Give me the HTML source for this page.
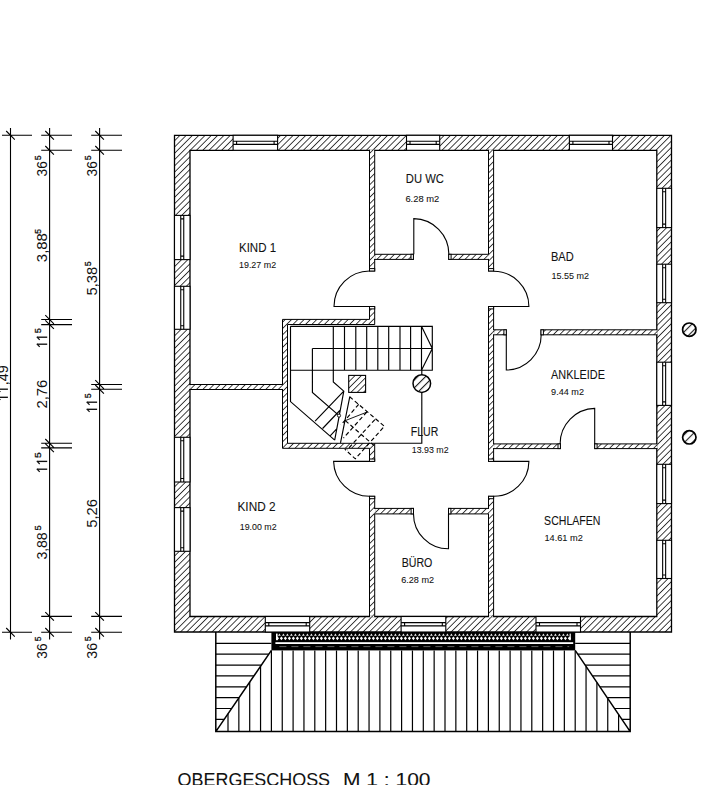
<!DOCTYPE html>
<html><head><meta charset="utf-8"><title>Obergeschoss</title>
<style>
html,body{margin:0;padding:0;background:#fff;}
body{width:713px;height:785px;overflow:hidden;}
svg{display:block;}
text{font-family:"Liberation Sans",sans-serif;fill:#111;}
.lb{stroke:#111;stroke-width:0.08px;}
.sp{stroke:#111;stroke-width:0.3px;}
</style></head><body>
<svg width="713" height="785" viewBox="0 0 713 785">
<defs>
<pattern id="h" patternUnits="userSpaceOnUse" width="4.45" height="20" patternTransform="rotate(45)">
<rect x="0" y="0" width="0.85" height="20" fill="#222"/>
</pattern>
<pattern id="h3" patternUnits="userSpaceOnUse" width="5.6" height="20" patternTransform="translate(1.5 0) rotate(45)">
<rect x="0" y="0" width="1.1" height="20" fill="#222"/>
</pattern>
<pattern id="h2" patternUnits="userSpaceOnUse" width="4.2" height="20" patternTransform="rotate(45)">
<rect x="0" y="0" width="1" height="20" fill="#222"/>
</pattern>
</defs>
<rect width="713" height="785" fill="#fff"/>
<path d="M174.5 135.3H671.5V632H174.5Z M190 150.3H656.8V616.5H190Z" fill="url(#h)" fill-rule="evenodd" stroke="#000" stroke-width="1.3"/>
<rect x="233.1" y="135.3" width="44.5" height="15" fill="#fff" stroke="#000" stroke-width="1.1"/>
<path d="M233.1 141.2H277.6M233.1 144.4H277.6M236.6 141.2V144.4M274.1 141.2V144.4" stroke="#000" stroke-width="1.1" fill="none"/>
<rect x="406.5" y="135.3" width="33.2" height="15" fill="#fff" stroke="#000" stroke-width="1.1"/>
<path d="M406.5 141.2H439.7M406.5 144.4H439.7M410 141.2V144.4M436.2 141.2V144.4" stroke="#000" stroke-width="1.1" fill="none"/>
<rect x="569.4" y="135.3" width="43.1" height="15" fill="#fff" stroke="#000" stroke-width="1.1"/>
<path d="M569.4 141.2H612.5M569.4 144.4H612.5M572.9 141.2V144.4M609 141.2V144.4" stroke="#000" stroke-width="1.1" fill="none"/>
<rect x="265.3" y="616.5" width="44.4" height="15.5" fill="#fff" stroke="#000" stroke-width="1.1"/>
<path d="M265.3 622.65H309.7M265.3 625.85H309.7M268.8 622.65V625.85M306.2 622.65V625.85" stroke="#000" stroke-width="1.1" fill="none"/>
<rect x="401.1" y="616.5" width="44.7" height="15.5" fill="#fff" stroke="#000" stroke-width="1.1"/>
<path d="M401.1 622.65H445.8M401.1 625.85H445.8M404.6 622.65V625.85M442.3 622.65V625.85" stroke="#000" stroke-width="1.1" fill="none"/>
<rect x="536" y="616.5" width="44.5" height="15.5" fill="#fff" stroke="#000" stroke-width="1.1"/>
<path d="M536 622.65H580.5M536 625.85H580.5M539.5 622.65V625.85M577 622.65V625.85" stroke="#000" stroke-width="1.1" fill="none"/>
<rect x="174.5" y="215.4" width="15.5" height="44.2" fill="#fff" stroke="#000" stroke-width="1.1"/>
<path d="M180.75 215.4V259.6M183.75 215.4V259.6M180.75 218.9H183.75M180.75 256.1H183.75" stroke="#000" stroke-width="1.1" fill="none"/>
<rect x="174.5" y="286.3" width="15.5" height="43" fill="#fff" stroke="#000" stroke-width="1.1"/>
<path d="M180.75 286.3V329.3M183.75 286.3V329.3M180.75 289.8H183.75M180.75 325.8H183.75" stroke="#000" stroke-width="1.1" fill="none"/>
<rect x="174.5" y="437.3" width="15.5" height="44.7" fill="#fff" stroke="#000" stroke-width="1.1"/>
<path d="M180.75 437.3V482M183.75 437.3V482M180.75 440.8H183.75M180.75 478.5H183.75" stroke="#000" stroke-width="1.1" fill="none"/>
<rect x="174.5" y="507.6" width="15.5" height="43.7" fill="#fff" stroke="#000" stroke-width="1.1"/>
<path d="M180.75 507.6V551.3M183.75 507.6V551.3M180.75 511.1H183.75M180.75 547.8H183.75" stroke="#000" stroke-width="1.1" fill="none"/>
<rect x="656.8" y="188.3" width="14.7" height="39.3" fill="#fff" stroke="#000" stroke-width="1.1"/>
<path d="M662.65 188.3V227.6M665.65 188.3V227.6M662.65 191.8H665.65M662.65 224.1H665.65" stroke="#000" stroke-width="1.1" fill="none"/>
<rect x="656.8" y="264.2" width="14.7" height="38.5" fill="#fff" stroke="#000" stroke-width="1.1"/>
<path d="M662.65 264.2V302.7M665.65 264.2V302.7M662.65 267.7H665.65M662.65 299.2H665.65" stroke="#000" stroke-width="1.1" fill="none"/>
<rect x="656.8" y="362.2" width="14.7" height="43.2" fill="#fff" stroke="#000" stroke-width="1.1"/>
<path d="M662.65 362.2V405.4M665.65 362.2V405.4M662.65 365.7H665.65M662.65 401.9H665.65" stroke="#000" stroke-width="1.1" fill="none"/>
<rect x="656.8" y="464.3" width="14.7" height="39.3" fill="#fff" stroke="#000" stroke-width="1.1"/>
<path d="M662.65 464.3V503.6M665.65 464.3V503.6M662.65 467.8H665.65M662.65 500.1H665.65" stroke="#000" stroke-width="1.1" fill="none"/>
<rect x="656.8" y="540.3" width="14.7" height="38.2" fill="#fff" stroke="#000" stroke-width="1.1"/>
<path d="M662.65 540.3V578.5M665.65 540.3V578.5M662.65 543.8H665.65M662.65 575H665.65" stroke="#000" stroke-width="1.1" fill="none"/>
<rect x="369.5" y="150.3" width="5.2" height="120.7" fill="url(#h)" stroke="#000" stroke-width="1"/>
<rect x="488.5" y="150.3" width="5.1" height="120.7" fill="url(#h)" stroke="#000" stroke-width="1"/>
<rect x="374.7" y="254.3" width="38.7" height="5.1" fill="url(#h)" stroke="#000" stroke-width="1"/>
<rect x="448.7" y="254.3" width="39.8" height="5.1" fill="url(#h)" stroke="#000" stroke-width="1"/>
<path d="M369.5 306.5 L374.7 306.5 L374.7 324.5 L287.5 324.5 L287.5 443.3 L374.7 443.3 L374.7 461.4 L369.5 461.4 L369.5 448.3 L282.5 448.3 L282.5 319.4 L369.5 319.4Z" fill="url(#h)" stroke="#000" stroke-width="1"/>
<rect x="190" y="384.5" width="92.5" height="5" fill="url(#h)" stroke="#000" stroke-width="1"/>
<rect x="488.5" y="306.5" width="5.1" height="154.9" fill="url(#h)" stroke="#000" stroke-width="1"/>
<rect x="493.6" y="329.8" width="12.7" height="5" fill="url(#h)" stroke="#000" stroke-width="1"/>
<rect x="541" y="329.8" width="115.8" height="5" fill="url(#h)" stroke="#000" stroke-width="1"/>
<rect x="493.6" y="443.9" width="66.8" height="4.7" fill="url(#h)" stroke="#000" stroke-width="1"/>
<rect x="594.7" y="443.9" width="62.1" height="4.7" fill="url(#h)" stroke="#000" stroke-width="1"/>
<rect x="369.5" y="496.3" width="5.2" height="120.2" fill="url(#h)" stroke="#000" stroke-width="1"/>
<rect x="488.5" y="496.3" width="5.1" height="120.2" fill="url(#h)" stroke="#000" stroke-width="1"/>
<rect x="374.7" y="508.4" width="38.8" height="5.5" fill="url(#h)" stroke="#000" stroke-width="1"/>
<rect x="448.5" y="508.4" width="40" height="5.5" fill="url(#h)" stroke="#000" stroke-width="1"/>
<rect x="370.05" y="149.4" width="4.1" height="1.8" fill="#fff"/>
<rect x="370.05" y="149.4" width="4.1" height="1.8" fill="url(#h)"/>
<rect x="489.05" y="149.4" width="4" height="1.8" fill="#fff"/>
<rect x="489.05" y="149.4" width="4" height="1.8" fill="url(#h)"/>
<rect x="370.05" y="615.6" width="4.1" height="1.8" fill="#fff"/>
<rect x="370.05" y="615.6" width="4.1" height="1.8" fill="url(#h)"/>
<rect x="489.05" y="615.6" width="4" height="1.8" fill="#fff"/>
<rect x="489.05" y="615.6" width="4" height="1.8" fill="url(#h)"/>
<rect x="373.8" y="254.85" width="1.8" height="4" fill="#fff"/>
<rect x="373.8" y="254.85" width="1.8" height="4" fill="url(#h)"/>
<rect x="487.6" y="254.85" width="1.8" height="4" fill="#fff"/>
<rect x="487.6" y="254.85" width="1.8" height="4" fill="url(#h)"/>
<rect x="189.1" y="385.05" width="1.8" height="3.9" fill="#fff"/>
<rect x="189.1" y="385.05" width="1.8" height="3.9" fill="url(#h)"/>
<rect x="281.6" y="385.05" width="1.8" height="3.9" fill="#fff"/>
<rect x="281.6" y="385.05" width="1.8" height="3.9" fill="url(#h)"/>
<rect x="492.7" y="330.35" width="1.8" height="3.9" fill="#fff"/>
<rect x="492.7" y="330.35" width="1.8" height="3.9" fill="url(#h)"/>
<rect x="655.9" y="330.35" width="1.8" height="3.9" fill="#fff"/>
<rect x="655.9" y="330.35" width="1.8" height="3.9" fill="url(#h)"/>
<rect x="492.7" y="444.45" width="1.8" height="3.6" fill="#fff"/>
<rect x="492.7" y="444.45" width="1.8" height="3.6" fill="url(#h)"/>
<rect x="655.9" y="444.45" width="1.8" height="3.6" fill="#fff"/>
<rect x="655.9" y="444.45" width="1.8" height="3.6" fill="url(#h)"/>
<rect x="373.8" y="508.95" width="1.8" height="4.4" fill="#fff"/>
<rect x="373.8" y="508.95" width="1.8" height="4.4" fill="url(#h)"/>
<rect x="487.6" y="508.95" width="1.8" height="4.4" fill="#fff"/>
<rect x="487.6" y="508.95" width="1.8" height="4.4" fill="url(#h)"/>
<rect x="369.5" y="268.6" width="5.2" height="2.4" fill="#fff" stroke="#000" stroke-width="1"/>
<rect x="488.5" y="268.6" width="5.1" height="2.4" fill="#fff" stroke="#000" stroke-width="1"/>
<rect x="369.5" y="306.5" width="5.2" height="2.4" fill="#fff" stroke="#000" stroke-width="1"/>
<rect x="488.5" y="306.5" width="5.1" height="2.4" fill="#fff" stroke="#000" stroke-width="1"/>
<rect x="369.5" y="459" width="5.2" height="2.4" fill="#fff" stroke="#000" stroke-width="1"/>
<rect x="488.5" y="459" width="5.1" height="2.4" fill="#fff" stroke="#000" stroke-width="1"/>
<rect x="369.5" y="496.3" width="5.2" height="2.4" fill="#fff" stroke="#000" stroke-width="1"/>
<rect x="488.5" y="496.3" width="5.1" height="2.4" fill="#fff" stroke="#000" stroke-width="1"/>
<rect x="411" y="254.3" width="2.4" height="5.1" fill="#fff" stroke="#000" stroke-width="1"/>
<rect x="448.7" y="254.3" width="2.4" height="5.1" fill="#fff" stroke="#000" stroke-width="1"/>
<rect x="411.1" y="508.4" width="2.4" height="5.5" fill="#fff" stroke="#000" stroke-width="1"/>
<rect x="448.5" y="508.4" width="2.4" height="5.5" fill="#fff" stroke="#000" stroke-width="1"/>
<rect x="503.9" y="329.8" width="2.4" height="5" fill="#fff" stroke="#000" stroke-width="1"/>
<rect x="541" y="329.8" width="2.4" height="5" fill="#fff" stroke="#000" stroke-width="1"/>
<rect x="558" y="443.9" width="2.4" height="4.7" fill="#fff" stroke="#000" stroke-width="1"/>
<rect x="594.7" y="443.9" width="2.4" height="4.7" fill="#fff" stroke="#000" stroke-width="1"/>
<path d="M413.8 254.3L413.8 218.6A35.7 35.7 0 0 1 448.9 254.3" fill="none" stroke="#000" stroke-width="1.1"/>
<path d="M369.5 306.5L334 306.5A35.5 35.5 0 0 1 369.5 271" fill="none" stroke="#000" stroke-width="1.1"/>
<path d="M493.6 306.5L528.9 306.5A35.3 35.3 0 0 0 493.6 271.2" fill="none" stroke="#000" stroke-width="1.1"/>
<path d="M369.5 461.4L333.6 461.4A35.9 35.9 0 0 0 369.5 496.3" fill="none" stroke="#000" stroke-width="1.1"/>
<path d="M493.6 461.4L528.9 461.4A35.3 35.3 0 0 1 493.6 496.3" fill="none" stroke="#000" stroke-width="1.1"/>
<path d="M448.5 513.9L448.5 548.8A34.9 34.9 0 0 1 413.5 513.9" fill="none" stroke="#000" stroke-width="1.1"/>
<path d="M506.3 334.8L506.3 370A35.2 35.2 0 0 0 541.2 334.8" fill="none" stroke="#000" stroke-width="1.1"/>
<path d="M594.7 443.9L594.7 408.4A35.5 35.5 0 0 0 560.1 443.9" fill="none" stroke="#000" stroke-width="1.1"/>
<path d="M290.5 326.3H432.3V370.2H290.5 M421.5 326.3V370.2M421.5 326.3L432.3 348.5L421.5 370.2 M312.4 348.5H432.3 M344.5 326.3V370.2 M355.8 326.3V370.2 M366.7 326.3V370.2 M377.8 326.3V370.2 M388.7 326.3V370.2 M400 326.3V370.2 M410.6 326.3V370.2 M333.3 326.3V382L343.8 391.1L334.7 440.1 M290.5 326.3V401.6L334.7 440.1 M312.4 348.5V392.5L338.2 414.9 M315.1 421.2L343.8 391.1M322.6 428.5L339.8 410.5M330.4 435.6L336.9 428.7 M349.8 396.7L340.5 442.8 M421.8 370.2V443.2H374.7" fill="none" stroke="#000" stroke-width="1.15"/>
<circle cx="339" cy="415.6" r="1.6" fill="#fff" stroke="#000" stroke-width="0.9"/>
<path d="M345.3 420.6L367.2 412" stroke="#000" stroke-width="0.9" fill="none"/>
<path d="M349.6 396.7L384.4 426.3L355.3 458.8L344.8 449.2M345.3 420.6L374 445.5M358.7 404.3L341 425M366.8 412L343.5 438M374.9 419.6L347 450" fill="none" stroke="#000" stroke-width="1.15" stroke-dasharray="4.2 2.6"/>
<rect x="348.7" y="375.4" width="16.9" height="17" fill="url(#h)" stroke="#000" stroke-width="1.1"/>
<circle cx="421.8" cy="383.6" r="8.8" fill="#fff"/>
<circle cx="421.8" cy="383.6" r="8.8" fill="url(#h3)" stroke="#000" stroke-width="1.5"/>
<circle cx="689.3" cy="329.7" r="6.7" fill="url(#h3)" stroke="#000" stroke-width="1.7"/>
<circle cx="689.3" cy="437.3" r="6.7" fill="url(#h3)" stroke="#000" stroke-width="1.7"/>
<path d="M215.8 643.3H271.4 M575.2 643.3H630.2 M215.8 654.17H268.82 M577.75 654.17H630.2 M215.8 665.04H261.38 M585.12 665.04H630.2 M215.8 675.91H253.93 M592.48 675.91H630.2 M215.8 686.78H246.49 M599.84 686.78H630.2 M215.8 697.65H239.05 M607.2 697.65H630.2 M215.8 708.52H231.6 M614.57 708.52H630.2 M215.8 719.39H224.16 M621.93 719.39H630.2 M228 713.78V731.6 M238.85 697.94V731.6 M249.7 682.09V731.6 M260.55 666.25V731.6 M271.4 650.4V731.6 M282.25 650.4V731.6 M293.1 650.4V731.6 M303.95 650.4V731.6 M314.8 650.4V731.6 M325.65 650.4V731.6 M336.5 650.4V731.6 M347.35 650.4V731.6 M358.2 650.4V731.6 M369.05 650.4V731.6 M379.9 650.4V731.6 M390.75 650.4V731.6 M401.6 650.4V731.6 M412.45 650.4V731.6 M423.3 650.4V731.6 M434.15 650.4V731.6 M445 650.4V731.6 M455.85 650.4V731.6 M466.7 650.4V731.6 M477.55 650.4V731.6 M488.4 650.4V731.6 M499.25 650.4V731.6 M510.1 650.4V731.6 M520.95 650.4V731.6 M531.8 650.4V731.6 M542.65 650.4V731.6 M553.5 650.4V731.6 M564.35 650.4V731.6 M575.2 650.4V731.6 M586.05 666.42V731.6 M596.9 682.44V731.6 M607.75 698.46V731.6 M618.6 714.47V731.6" fill="none" stroke="#000" stroke-width="1.2"/>
<path d="M215.8 632V731.6H630.2V632 M271.4 650.4L215.8 731.6 M575.2 650.4L630.2 731.6" fill="none" stroke="#000" stroke-width="1.5"/>
<rect x="271.4" y="632" width="303.8" height="18.4" fill="#000"/>
<rect x="275.4" y="642.2" width="297.8" height="1.8" fill="#fff"/>
<path d="M277.4 636.4l1.6 1.9l-1.6 1.9l-1.6 -1.9Z M281.4 636.4l1.6 1.9l-1.6 1.9l-1.6 -1.9Z M285.4 636.4l1.6 1.9l-1.6 1.9l-1.6 -1.9Z M289.4 636.4l1.6 1.9l-1.6 1.9l-1.6 -1.9Z M293.4 636.4l1.6 1.9l-1.6 1.9l-1.6 -1.9Z M297.4 636.4l1.6 1.9l-1.6 1.9l-1.6 -1.9Z M301.4 636.4l1.6 1.9l-1.6 1.9l-1.6 -1.9Z M305.4 636.4l1.6 1.9l-1.6 1.9l-1.6 -1.9Z M309.4 636.4l1.6 1.9l-1.6 1.9l-1.6 -1.9Z M313.4 636.4l1.6 1.9l-1.6 1.9l-1.6 -1.9Z M317.4 636.4l1.6 1.9l-1.6 1.9l-1.6 -1.9Z M321.4 636.4l1.6 1.9l-1.6 1.9l-1.6 -1.9Z M325.4 636.4l1.6 1.9l-1.6 1.9l-1.6 -1.9Z M329.4 636.4l1.6 1.9l-1.6 1.9l-1.6 -1.9Z M333.4 636.4l1.6 1.9l-1.6 1.9l-1.6 -1.9Z M337.4 636.4l1.6 1.9l-1.6 1.9l-1.6 -1.9Z M341.4 636.4l1.6 1.9l-1.6 1.9l-1.6 -1.9Z M345.4 636.4l1.6 1.9l-1.6 1.9l-1.6 -1.9Z M349.4 636.4l1.6 1.9l-1.6 1.9l-1.6 -1.9Z M353.4 636.4l1.6 1.9l-1.6 1.9l-1.6 -1.9Z M357.4 636.4l1.6 1.9l-1.6 1.9l-1.6 -1.9Z M361.4 636.4l1.6 1.9l-1.6 1.9l-1.6 -1.9Z M365.4 636.4l1.6 1.9l-1.6 1.9l-1.6 -1.9Z M369.4 636.4l1.6 1.9l-1.6 1.9l-1.6 -1.9Z M373.4 636.4l1.6 1.9l-1.6 1.9l-1.6 -1.9Z M377.4 636.4l1.6 1.9l-1.6 1.9l-1.6 -1.9Z M381.4 636.4l1.6 1.9l-1.6 1.9l-1.6 -1.9Z M385.4 636.4l1.6 1.9l-1.6 1.9l-1.6 -1.9Z M389.4 636.4l1.6 1.9l-1.6 1.9l-1.6 -1.9Z M393.4 636.4l1.6 1.9l-1.6 1.9l-1.6 -1.9Z M397.4 636.4l1.6 1.9l-1.6 1.9l-1.6 -1.9Z M401.4 636.4l1.6 1.9l-1.6 1.9l-1.6 -1.9Z M405.4 636.4l1.6 1.9l-1.6 1.9l-1.6 -1.9Z M409.4 636.4l1.6 1.9l-1.6 1.9l-1.6 -1.9Z M413.4 636.4l1.6 1.9l-1.6 1.9l-1.6 -1.9Z M417.4 636.4l1.6 1.9l-1.6 1.9l-1.6 -1.9Z M421.4 636.4l1.6 1.9l-1.6 1.9l-1.6 -1.9Z M425.4 636.4l1.6 1.9l-1.6 1.9l-1.6 -1.9Z M429.4 636.4l1.6 1.9l-1.6 1.9l-1.6 -1.9Z M433.4 636.4l1.6 1.9l-1.6 1.9l-1.6 -1.9Z M437.4 636.4l1.6 1.9l-1.6 1.9l-1.6 -1.9Z M441.4 636.4l1.6 1.9l-1.6 1.9l-1.6 -1.9Z M445.4 636.4l1.6 1.9l-1.6 1.9l-1.6 -1.9Z M449.4 636.4l1.6 1.9l-1.6 1.9l-1.6 -1.9Z M453.4 636.4l1.6 1.9l-1.6 1.9l-1.6 -1.9Z M457.4 636.4l1.6 1.9l-1.6 1.9l-1.6 -1.9Z M461.4 636.4l1.6 1.9l-1.6 1.9l-1.6 -1.9Z M465.4 636.4l1.6 1.9l-1.6 1.9l-1.6 -1.9Z M469.4 636.4l1.6 1.9l-1.6 1.9l-1.6 -1.9Z M473.4 636.4l1.6 1.9l-1.6 1.9l-1.6 -1.9Z M477.4 636.4l1.6 1.9l-1.6 1.9l-1.6 -1.9Z M481.4 636.4l1.6 1.9l-1.6 1.9l-1.6 -1.9Z M485.4 636.4l1.6 1.9l-1.6 1.9l-1.6 -1.9Z M489.4 636.4l1.6 1.9l-1.6 1.9l-1.6 -1.9Z M493.4 636.4l1.6 1.9l-1.6 1.9l-1.6 -1.9Z M497.4 636.4l1.6 1.9l-1.6 1.9l-1.6 -1.9Z M501.4 636.4l1.6 1.9l-1.6 1.9l-1.6 -1.9Z M505.4 636.4l1.6 1.9l-1.6 1.9l-1.6 -1.9Z M509.4 636.4l1.6 1.9l-1.6 1.9l-1.6 -1.9Z M513.4 636.4l1.6 1.9l-1.6 1.9l-1.6 -1.9Z M517.4 636.4l1.6 1.9l-1.6 1.9l-1.6 -1.9Z M521.4 636.4l1.6 1.9l-1.6 1.9l-1.6 -1.9Z M525.4 636.4l1.6 1.9l-1.6 1.9l-1.6 -1.9Z M529.4 636.4l1.6 1.9l-1.6 1.9l-1.6 -1.9Z M533.4 636.4l1.6 1.9l-1.6 1.9l-1.6 -1.9Z M537.4 636.4l1.6 1.9l-1.6 1.9l-1.6 -1.9Z M541.4 636.4l1.6 1.9l-1.6 1.9l-1.6 -1.9Z M545.4 636.4l1.6 1.9l-1.6 1.9l-1.6 -1.9Z M549.4 636.4l1.6 1.9l-1.6 1.9l-1.6 -1.9Z M553.4 636.4l1.6 1.9l-1.6 1.9l-1.6 -1.9Z M557.4 636.4l1.6 1.9l-1.6 1.9l-1.6 -1.9Z M561.4 636.4l1.6 1.9l-1.6 1.9l-1.6 -1.9Z M565.4 636.4l1.6 1.9l-1.6 1.9l-1.6 -1.9Z M569.4 636.4l1.6 1.9l-1.6 1.9l-1.6 -1.9Z" fill="#fff"/>
<path d="M279.4 633.6l1.4 2.2h-2.8Z M283.4 633.6l1.4 2.2h-2.8Z M287.4 633.6l1.4 2.2h-2.8Z M291.4 633.6l1.4 2.2h-2.8Z M295.4 633.6l1.4 2.2h-2.8Z M299.4 633.6l1.4 2.2h-2.8Z M303.4 633.6l1.4 2.2h-2.8Z M307.4 633.6l1.4 2.2h-2.8Z M311.4 633.6l1.4 2.2h-2.8Z M315.4 633.6l1.4 2.2h-2.8Z M319.4 633.6l1.4 2.2h-2.8Z M323.4 633.6l1.4 2.2h-2.8Z M327.4 633.6l1.4 2.2h-2.8Z M331.4 633.6l1.4 2.2h-2.8Z M335.4 633.6l1.4 2.2h-2.8Z M339.4 633.6l1.4 2.2h-2.8Z M343.4 633.6l1.4 2.2h-2.8Z M347.4 633.6l1.4 2.2h-2.8Z M351.4 633.6l1.4 2.2h-2.8Z M355.4 633.6l1.4 2.2h-2.8Z M359.4 633.6l1.4 2.2h-2.8Z M363.4 633.6l1.4 2.2h-2.8Z M367.4 633.6l1.4 2.2h-2.8Z M371.4 633.6l1.4 2.2h-2.8Z M375.4 633.6l1.4 2.2h-2.8Z M379.4 633.6l1.4 2.2h-2.8Z M383.4 633.6l1.4 2.2h-2.8Z M387.4 633.6l1.4 2.2h-2.8Z M391.4 633.6l1.4 2.2h-2.8Z M395.4 633.6l1.4 2.2h-2.8Z M399.4 633.6l1.4 2.2h-2.8Z M403.4 633.6l1.4 2.2h-2.8Z M407.4 633.6l1.4 2.2h-2.8Z M411.4 633.6l1.4 2.2h-2.8Z M415.4 633.6l1.4 2.2h-2.8Z M419.4 633.6l1.4 2.2h-2.8Z M423.4 633.6l1.4 2.2h-2.8Z M427.4 633.6l1.4 2.2h-2.8Z M431.4 633.6l1.4 2.2h-2.8Z M435.4 633.6l1.4 2.2h-2.8Z M439.4 633.6l1.4 2.2h-2.8Z M443.4 633.6l1.4 2.2h-2.8Z M447.4 633.6l1.4 2.2h-2.8Z M451.4 633.6l1.4 2.2h-2.8Z M455.4 633.6l1.4 2.2h-2.8Z M459.4 633.6l1.4 2.2h-2.8Z M463.4 633.6l1.4 2.2h-2.8Z M467.4 633.6l1.4 2.2h-2.8Z M471.4 633.6l1.4 2.2h-2.8Z M475.4 633.6l1.4 2.2h-2.8Z M479.4 633.6l1.4 2.2h-2.8Z M483.4 633.6l1.4 2.2h-2.8Z M487.4 633.6l1.4 2.2h-2.8Z M491.4 633.6l1.4 2.2h-2.8Z M495.4 633.6l1.4 2.2h-2.8Z M499.4 633.6l1.4 2.2h-2.8Z M503.4 633.6l1.4 2.2h-2.8Z M507.4 633.6l1.4 2.2h-2.8Z M511.4 633.6l1.4 2.2h-2.8Z M515.4 633.6l1.4 2.2h-2.8Z M519.4 633.6l1.4 2.2h-2.8Z M523.4 633.6l1.4 2.2h-2.8Z M527.4 633.6l1.4 2.2h-2.8Z M531.4 633.6l1.4 2.2h-2.8Z M535.4 633.6l1.4 2.2h-2.8Z M539.4 633.6l1.4 2.2h-2.8Z M543.4 633.6l1.4 2.2h-2.8Z M547.4 633.6l1.4 2.2h-2.8Z M551.4 633.6l1.4 2.2h-2.8Z M555.4 633.6l1.4 2.2h-2.8Z M559.4 633.6l1.4 2.2h-2.8Z M563.4 633.6l1.4 2.2h-2.8Z M567.4 633.6l1.4 2.2h-2.8Z" fill="#eee"/>
<rect x="276" y="633.6" width="1.6" height="6.6" fill="#fff"/>
<rect x="569.6" y="633.6" width="1.2" height="6.6" fill="#fff"/>
<path d="M279.4 646.6H569.2" stroke="#777" stroke-width="0.8" stroke-dasharray="7 5"/>
<text x="239" y="251.9" font-size="11.9" textLength="37.1" lengthAdjust="spacingAndGlyphs" class="lb">KIND 1</text>
<text x="239" y="268.2" font-size="9" textLength="37.1" lengthAdjust="spacingAndGlyphs" class="lb">19.27 m2</text>
<text x="405.8" y="182.8" font-size="11.9" textLength="38.1" lengthAdjust="spacingAndGlyphs" class="lb">DU WC</text>
<text x="405.4" y="202" font-size="9" textLength="33.9" lengthAdjust="spacingAndGlyphs" class="lb">6.28 m2</text>
<text x="550.9" y="260.8" font-size="11.9" textLength="22.8" lengthAdjust="spacingAndGlyphs" class="lb">BAD</text>
<text x="551.4" y="278.7" font-size="9" textLength="37.5" lengthAdjust="spacingAndGlyphs" class="lb">15.55 m2</text>
<text x="551.1" y="379" font-size="11.9" textLength="53.8" lengthAdjust="spacingAndGlyphs" class="lb">ANKLEIDE</text>
<text x="551.1" y="394.7" font-size="9" textLength="32.9" lengthAdjust="spacingAndGlyphs" class="lb">9.44 m2</text>
<text x="410.8" y="436.4" font-size="11.9" textLength="27.5" lengthAdjust="spacingAndGlyphs" class="lb">FLUR</text>
<text x="411.8" y="452.8" font-size="9" textLength="36.8" lengthAdjust="spacingAndGlyphs" class="lb">13.93 m2</text>
<text x="237.5" y="510.8" font-size="11.9" textLength="38" lengthAdjust="spacingAndGlyphs" class="lb">KIND 2</text>
<text x="239.8" y="529.8" font-size="9" textLength="36.8" lengthAdjust="spacingAndGlyphs" class="lb">19.00 m2</text>
<text x="544.1" y="524.8" font-size="11.9" textLength="56.4" lengthAdjust="spacingAndGlyphs" class="lb">SCHLAFEN</text>
<text x="544.4" y="540.6" font-size="9" textLength="38.5" lengthAdjust="spacingAndGlyphs" class="lb">14.61 m2</text>
<text x="401.7" y="566.6" font-size="11.9" textLength="30.7" lengthAdjust="spacingAndGlyphs" class="lb">BÜRO</text>
<text x="401.2" y="582.8" font-size="9" textLength="32.9" lengthAdjust="spacingAndGlyphs" class="lb">6.28 m2</text>
<text x="177.6" y="786" font-size="19" textLength="152.5" lengthAdjust="spacingAndGlyphs" class="lb">OBERGESCHOSS</text>
<text x="343" y="786" font-size="19" textLength="87.5" lengthAdjust="spacingAndGlyphs" class="lb">M 1 : 100</text>
<path d="M10.5 128V639.5 M2 135.3H32 M6.2 131L14.8 139.6 M2 632.3H32 M6.2 628L14.8 636.6 M49.6 128V639.5 M41.2 135.3H72 M45.3 131L53.9 139.6 M41.2 150.3H72 M45.3 146L53.9 154.6 M41.2 319.5H72 M45.3 315.2L53.9 323.8 M41.2 324.6H72 M45.3 320.3L53.9 328.9 M41.2 443.3H72 M45.3 439L53.9 447.6 M41.2 447.9H72 M45.3 443.6L53.9 452.2 M41.2 616.4H72 M45.3 612.1L53.9 620.7 M41.2 632.3H72 M45.3 628L53.9 636.6 M99.6 128V639.5 M91.2 135.3H122 M95.3 131L103.9 139.6 M91.2 150.3H122 M95.3 146L103.9 154.6 M91.2 384.5H122 M95.3 380.2L103.9 388.8 M91.2 389.3H122 M95.3 385L103.9 393.6 M91.2 616.4H122 M95.3 612.1L103.9 620.7 M91.2 632.3H122 M95.3 628L103.9 636.6" fill="none" stroke="#000" stroke-width="1.1"/>
<path d="M-2.5 397.3H7.9" stroke="#111" stroke-width="1.35" fill="none"/>
<path d="M-2.3 397.1L0.4 399.9" stroke="#111" stroke-width="1.2" fill="none"/>
<path d="M-2.5 389.2H7.9" stroke="#111" stroke-width="1.35" fill="none"/>
<path d="M-2.3 389L0.4 391.8" stroke="#111" stroke-width="1.2" fill="none"/>
<text transform="translate(7.8 385.15) rotate(-90)" font-size="15" textLength="20" lengthAdjust="spacingAndGlyphs">,49</text>
<text transform="translate(47.2 176.45) rotate(-90)" font-size="15" textLength="15.2" lengthAdjust="spacingAndGlyphs">36</text>
<text transform="translate(41.3 160.35) rotate(-90)" font-size="9.9" textLength="4.9" lengthAdjust="spacingAndGlyphs" class="sp">5</text>
<text transform="translate(47.2 262.15) rotate(-90)" font-size="15" textLength="29" lengthAdjust="spacingAndGlyphs">3,88</text>
<text transform="translate(41.3 233.75) rotate(-90)" font-size="9.9" textLength="4.7" lengthAdjust="spacingAndGlyphs" class="sp">5</text>
<path d="M36.8 344.2H47.2" stroke="#111" stroke-width="1.35" fill="none"/>
<path d="M37 344L39.7 346.8" stroke="#111" stroke-width="1.2" fill="none"/>
<path d="M36.8 337.2H47.2" stroke="#111" stroke-width="1.35" fill="none"/>
<path d="M37 337L39.7 339.8" stroke="#111" stroke-width="1.2" fill="none"/>
<text transform="translate(41.3 333.25) rotate(-90)" font-size="9.9" textLength="5.1" lengthAdjust="spacingAndGlyphs" class="sp">5</text>
<text transform="translate(47.2 408.55) rotate(-90)" font-size="15" textLength="28.9" lengthAdjust="spacingAndGlyphs">2,76</text>
<path d="M36.8 469.2H47.2" stroke="#111" stroke-width="1.35" fill="none"/>
<path d="M37 469L39.7 471.8" stroke="#111" stroke-width="1.2" fill="none"/>
<path d="M36.8 461.4H47.2" stroke="#111" stroke-width="1.35" fill="none"/>
<path d="M37 461.2L39.7 464" stroke="#111" stroke-width="1.2" fill="none"/>
<text transform="translate(41.3 458.05) rotate(-90)" font-size="9.9" textLength="5.7" lengthAdjust="spacingAndGlyphs" class="sp">5</text>
<text transform="translate(47.2 559.55) rotate(-90)" font-size="15" textLength="27.2" lengthAdjust="spacingAndGlyphs">3,88</text>
<text transform="translate(41.3 530.45) rotate(-90)" font-size="9.9" textLength="5.2" lengthAdjust="spacingAndGlyphs" class="sp">5</text>
<text transform="translate(47.2 658.65) rotate(-90)" font-size="15" textLength="15.4" lengthAdjust="spacingAndGlyphs">36</text>
<text transform="translate(41.3 641.35) rotate(-90)" font-size="9.9" textLength="4.7" lengthAdjust="spacingAndGlyphs" class="sp">5</text>
<text transform="translate(97.1 176.45) rotate(-90)" font-size="15" textLength="15.2" lengthAdjust="spacingAndGlyphs">36</text>
<text transform="translate(91.2 160.35) rotate(-90)" font-size="9.9" textLength="4.9" lengthAdjust="spacingAndGlyphs" class="sp">5</text>
<text transform="translate(97.1 295.45) rotate(-90)" font-size="15" textLength="28.7" lengthAdjust="spacingAndGlyphs">5,38</text>
<text transform="translate(91.2 266.35) rotate(-90)" font-size="9.9" textLength="4.9" lengthAdjust="spacingAndGlyphs" class="sp">5</text>
<path d="M86.7 409.3H97.1" stroke="#111" stroke-width="1.35" fill="none"/>
<path d="M86.9 409.1L89.6 411.9" stroke="#111" stroke-width="1.2" fill="none"/>
<path d="M86.7 402.2H97.1" stroke="#111" stroke-width="1.35" fill="none"/>
<path d="M86.9 402L89.6 404.8" stroke="#111" stroke-width="1.2" fill="none"/>
<text transform="translate(91.2 398.35) rotate(-90)" font-size="9.9" textLength="4.9" lengthAdjust="spacingAndGlyphs" class="sp">5</text>
<text transform="translate(97.1 527.75) rotate(-90)" font-size="15" textLength="28.7" lengthAdjust="spacingAndGlyphs">5,26</text>
<text transform="translate(97.1 658.65) rotate(-90)" font-size="15" textLength="15.8" lengthAdjust="spacingAndGlyphs">36</text>
<text transform="translate(91.2 641.35) rotate(-90)" font-size="9.9" textLength="4.9" lengthAdjust="spacingAndGlyphs" class="sp">5</text>
</svg>
</body></html>
